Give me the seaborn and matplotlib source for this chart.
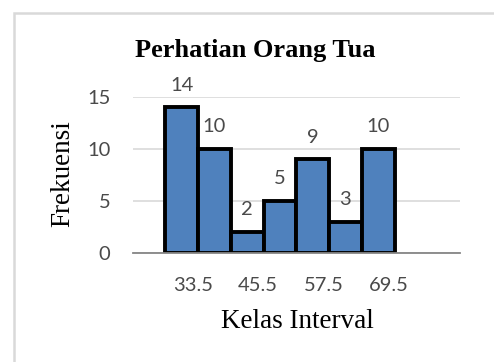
import matplotlib
matplotlib.use("Agg")
import matplotlib.pyplot as plt
import matplotlib.patches as mpatches
import seaborn as sns

# ---- data ----
bin_edges = [28.5, 34.5, 40.5, 46.5, 52.5, 58.5, 64.5, 70.5]
frequencies = [14, 10, 2, 5, 9, 3, 10]
tick_values = [33.5, 45.5, 57.5, 69.5]
y_ticks = [0, 5, 10, 15]
title = "Perhatian Orang Tua"
x_label = "Kelas Interval"
y_label = "Frekuensi"

midpoints = [(a + b) / 2 for a, b in zip(bin_edges[:-1], bin_edges[1:])]

sns.set_style("white")
W, H = 494, 362
fig = plt.figure(figsize=(W / 100, H / 100), dpi=100)
ax = fig.add_axes([132.7 / W, 1 - 253 / H, (460 - 132.7) / W, (253 - 97) / H])

sns.histplot(x=midpoints, weights=frequencies, bins=bin_edges, ax=ax,
             color="#4F81BD", alpha=1, edgecolor="black", linewidth=2.8,
             stat="count")

ax.set_xlim(22.5, 82.5)
ax.set_ylim(0, 15)
ax.set_yticks(y_ticks)
ax.set_xticks(tick_values)
ax.set_xticklabels([f"{v:g}" for v in tick_values])
num_font = "Lato"
num_size = 14.5
for lab in ax.get_xticklabels() + ax.get_yticklabels():
    lab.set_fontfamily(num_font)
    lab.set_fontsize(num_size)
    lab.set_color("#4a4a4a")
ax.tick_params(axis="both", length=0)
ax.tick_params(axis="y", pad=16)
ax.tick_params(axis="x", pad=17)

ax.grid(axis="y", color="#d9d9d9", linewidth=1.2)
ax.set_axisbelow(True)
for s in ["top", "right", "left"]:
    ax.spines[s].set_visible(False)
ax.spines["bottom"].set_color("#868686")
ax.spines["bottom"].set_linewidth(1.3)
ax.spines["bottom"].set_zorder(5)

ax.bar_label(ax.containers[0], labels=[str(v) for v in frequencies],
             padding=10, fontsize=num_size, color="#4a4a4a", family=num_font)

ax.set_xlabel(x_label, fontfamily="Liberation Serif", fontsize=19.5, color="black")
ax.set_ylabel(y_label, fontfamily="Liberation Serif", fontsize=19.5, color="black")
ax.xaxis.set_label_coords((297 - 132.7) / (460 - 132.7), 1 - (322 - 97) / (253 - 97))
ax.xaxis.label.set_verticalalignment("center")
ax.yaxis.set_label_coords((63 - 132.7) / (460 - 132.7), (253 - 174) / (253 - 97))
ax.yaxis.label.set_verticalalignment("center")

fig.text(255 / W, 1 - 51 / H, title, fontfamily="Liberation Serif",
         fontweight="bold", fontsize=19, ha="center", va="center", color="black")

# chart border
border = mpatches.Rectangle((14 / W, -0.1), 1.1, 1 - 13 / H + 0.1,
                            transform=fig.transFigure, fill=False,
                            edgecolor="#d9d9d9", linewidth=1.8)
fig.patches.append(border)

fig.savefig("out.png", dpi=100, facecolor="white")
